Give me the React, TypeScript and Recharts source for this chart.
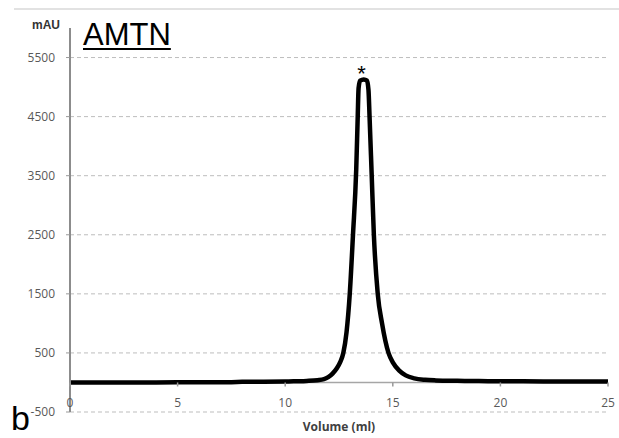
import {
  LineChart,
  Line,
  XAxis,
  YAxis,
  CartesianGrid,
  ReferenceLine,
  ReferenceDot,
  Label,
} from "recharts";

// elution volume (ml)
const volume = [
  0, 2, 4, 6, 7.5, 8, 9, 10, 10.5, 11, 11.5, 11.8, 12, 12.2, 12.4, 12.55, 12.7,
  12.85, 13.0, 13.15, 13.3, 13.37, 13.41, 13.48, 13.65, 13.8, 13.87, 13.92,
  14.02, 14.12, 14.3, 14.5, 14.8, 15.0, 15.3, 15.6, 16, 16.5, 17, 18, 19, 20,
  22, 25,
];

// absorbance (mAU)
const absorbance = [
  0, 0, 1, 3, 5, 10, 12, 15, 20, 26, 38, 55, 90, 150, 240, 340, 500, 850,
  1500, 2500, 3600, 4500, 4980, 5110, 5130, 5110, 4950, 4500, 3500, 2500, 1500,
  1000, 500, 340, 200, 120, 70, 45, 35, 28, 24, 20, 18, 16,
];

const xTicks = [0, 5, 10, 15, 20, 25];
const yTicks = [-500, 500, 1500, 2500, 3500, 4500, 5500];
const yDomain = [-500, 6000];
const peakMark = { x: 13.55, y: 5130, text: "*" };

const data = volume.map((v, i) => ({ v, mau: absorbance[i] }));

const W = 619;
const H = 438;
const margin = { top: 28, right: 11, bottom: 6, left: 10 };
const xAxisH = 20;
const plotH = H - margin.top - margin.bottom - xAxisH;
// distance from bottom of plot up to the 0 mAU line
const zeroOffset = ((0 - yDomain[0]) / (yDomain[1] - yDomain[0])) * plotH;

const renderXTick = (props: any) => {
  const { x, y, payload } = props;
  return (
    <g key={`xt-${payload.value}`}>
      <line
        x1={x}
        x2={x}
        y1={y - zeroOffset}
        y2={y - zeroOffset + 4}
        stroke="#999"
        strokeWidth={1.5}
      />
      <text
        x={x}
        y={y - 5}
        textAnchor="middle"
        fill="#595959"
        fontSize={12}
        fontFamily="'Open Sans', sans-serif"
      >
        {payload.value}
      </text>
    </g>
  );
};

export default function App() {
  return (
    <div
      style={{
        position: "absolute",
        left: 0,
        top: 0,
        width: W,
        height: H,
        background: "#fff",
      }}
    >
      {/* top rule */}
      <div
        style={{
          position: "absolute",
          left: 14,
          top: 8,
          width: W - 14,
          height: 2,
          background: "#e2e2e2",
        }}
      />

      <LineChart width={W} height={H} data={data} margin={margin}>
        <CartesianGrid
          horizontal
          vertical={false}
          syncWithTicks
          stroke="#bdbdbd"
          strokeDasharray="4 3"
        />
        <XAxis
          dataKey="v"
          type="number"
          domain={[0, 25]}
          ticks={xTicks}
          height={xAxisH}
          axisLine={false}
          tickLine={false}
          tickSize={0}
          tickMargin={0}
          tick={renderXTick}
          interval={0}
        >
          <Label
            value="Volume (ml)"
            position="insideBottom"
            offset={1}
            fill="#404040"
            fontSize={12}
            fontWeight="bold"
            fontFamily="'Open Sans', sans-serif"
          />
        </XAxis>
        <YAxis
          type="number"
          domain={yDomain}
          ticks={yTicks}
          width={60}
          interval={0}
          axisLine={{ stroke: "#8c8c8c", strokeWidth: 2 }}
          tickLine={{ stroke: "#999" }}
          tickSize={4}
          tickMargin={11}
          tick={{
            fill: "#595959",
            fontSize: 12,
            fontFamily: "'Open Sans', sans-serif",
          }}
        />
        <ReferenceLine y={0} stroke="#a6a6a6" strokeWidth={1.5} />
        <Line
          type="monotone"
          dataKey="mau"
          stroke="#000"
          strokeWidth={4.5}
          strokeLinejoin="round"
          dot={false}
          isAnimationActive={false}
        />
        <ReferenceDot
          x={peakMark.x}
          y={peakMark.y}
          r={0}
          fill="none"
          stroke="none"
        >
          <Label
            value={peakMark.text}
            position="top"
            offset={-2}
            fill="#000"
            fontSize={22}
            fontFamily="'Liberation Sans', Arial, sans-serif"
          />
        </ReferenceDot>
      </LineChart>

      {/* axis unit */}
      <div
        style={{
          position: "absolute",
          left: 32,
          top: 19,
          fontFamily: "'Liberation Sans', Arial, sans-serif",
          fontWeight: "bold",
          fontSize: 12,
          color: "#333",
          lineHeight: "13px",
        }}
      >
        mAU
      </div>

      {/* title */}
      <div
        style={{
          position: "absolute",
          left: 83,
          top: 18,
          fontFamily: "'Liberation Sans', Arial, sans-serif",
          fontSize: 31,
          lineHeight: "34px",
          color: "#000",
          textDecoration: "underline",
          textDecorationThickness: 2,
          textUnderlineOffset: 3,
        }}
      >
        AMTN
      </div>

      {/* panel letter */}
      <div
        style={{
          position: "absolute",
          left: 11,
          top: 400,
          fontFamily: "'Liberation Sans', Arial, sans-serif",
          fontSize: 34,
          lineHeight: "36px",
          color: "#000",
        }}
      >
        b
      </div>
    </div>
  );
}
